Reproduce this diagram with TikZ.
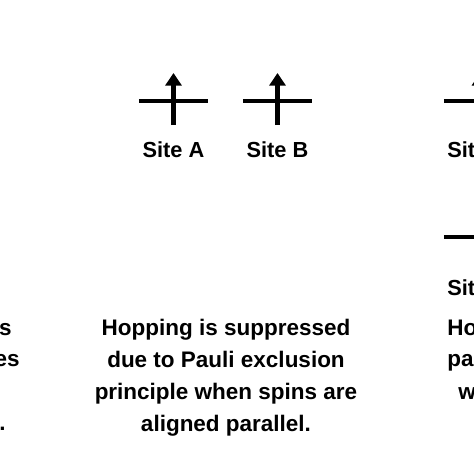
\documentclass[tikz,border=0pt]{standalone}
\usepackage{fontspec}
\setmainfont{Liberation Sans}
\usetikzlibrary{arrows.meta}
\begin{document}
\begin{tikzpicture}[x=1cm,y=1cm,
    level/.style={line width=3.2pt},
    spin/.style={line width=3.2pt, -{Triangle[length=9pt,width=11.4pt]}},
    lbl/.style={font=\bfseries\fontsize{15.5}{18}\selectfont, inner sep=0pt},
    txt/.style={font=\bfseries\fontsize{16}{22.8}\selectfont, align=center, inner sep=0pt}
]
\useasboundingbox (0,0) rectangle (11.85,11.85);
\clip (0,0) rectangle (11.85,11.85);

% middle: two sites, spins parallel
\foreach \s/\x in {A/4.3375, B/6.9375} {
  \coordinate (l\s) at (\x-0.8625,9.325);
  \coordinate (r\s) at (\x+0.8625,9.325);
  \coordinate (b\s) at (\x,8.725);
  \coordinate (t\s) at (\x,10.025);
  \draw[level] (l\s) -- (r\s);
  \draw[spin] (b\s) -- (t\s);
  \node[lbl, anchor=base] (site\s) at (\x,7.9) {Site \s};
}
\node[txt, anchor=north] (hop) at (5.65,3.885)
  {Hopping is suppressed\\due to Pauli exclusion\\principle when spins are\\aligned parallel.};

% left edge: ends of the cut text
\node[txt, anchor=base east] (left1) at (0.3,3.475) {s};
\node[txt, anchor=base east] (left2) at (0.5,2.675) {es};
\node[txt, anchor=base east] (left4) at (0.15,1.075) {.};

% right edge: cut sites
\coordinate (rl1) at (11.1,9.325);
\coordinate (rr1) at (12.8,9.325);
\coordinate (rb1) at (12.0,8.725);
\coordinate (rt1) at (12.0,10.025);
\draw[level] (rl1) -- (rr1);
\draw[spin] (rb1) -- (rt1);
\node[lbl, anchor=base west] (rsite1) at (11.175,7.9) {Sit};
\coordinate (rl2) at (11.1,5.925);
\coordinate (rr2) at (12.8,5.925);
\draw[level] (rl2) -- (rr2);
\node[lbl, anchor=base west] (rsite2) at (11.175,4.475) {Sit};
\node[txt, anchor=base west] (right1) at (11.175,3.475) {Ho};
\node[txt, anchor=base west] (right2) at (11.175,2.675) {pa};
\node[txt, anchor=base west] (right3) at (11.45,1.875) {w};
\end{tikzpicture}
\end{document}
